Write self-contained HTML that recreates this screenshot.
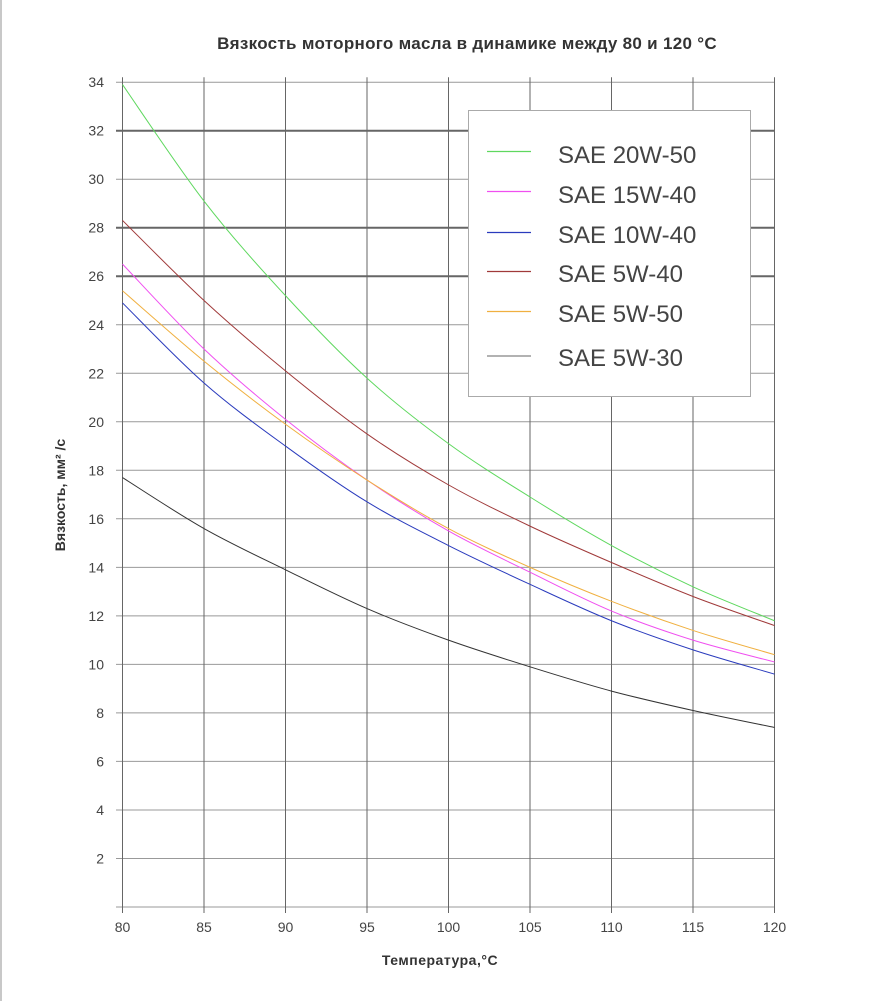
<!DOCTYPE html>
<html><head><meta charset="utf-8"><style>
body{margin:0;background:#fff;}
svg{display:block;font-family:"Liberation Sans","DejaVu Sans",sans-serif;}
</style></head><body>
<svg id="s" width="874" height="1001" viewBox="0 0 874 1001">
<rect x="0" y="0" width="2" height="1001" fill="#c8c8c8"/>
<text x="467" y="49" text-anchor="middle" font-size="17" font-weight="bold" fill="#333" letter-spacing="0.3">Вязкость моторного масла в динамике между 80 и 120 °C</text>
<g id="grid"></g>
<g id="curves" fill="none" stroke-width="1"></g>
<rect x="468.5" y="110.5" width="282" height="286" fill="#fff" stroke="#aaa" stroke-width="1"/>
<g stroke-width="1.2">
<line x1="487" y1="151.5" x2="531" y2="151.5" stroke="#5fd85f"/>
<line x1="487" y1="191.5" x2="531" y2="191.5" stroke="#f04ff0"/>
<line x1="487" y1="232.5" x2="531" y2="232.5" stroke="#2a3bbd"/>
<line x1="487" y1="271.5" x2="531" y2="271.5" stroke="#a03a3a"/>
<line x1="487" y1="311.5" x2="531" y2="311.5" stroke="#f0b040"/>
<line x1="487" y1="356" x2="531" y2="356" stroke="#999" stroke-width="1.6"/>
</g>
<g font-size="24" fill="#444">
<text x="558" y="163">SAE 20W-50</text>
<text x="558" y="203">SAE 15W-40</text>
<text x="558" y="243">SAE 10W-40</text>
<text x="558" y="282">SAE 5W-40</text>
<text x="558" y="322">SAE 5W-50</text>
<text x="558" y="366">SAE 5W-30</text>
</g>
<text x="440" y="965" text-anchor="middle" font-size="14" font-weight="bold" fill="#333" letter-spacing="0.5">Температура,°C</text>
<text transform="translate(65,495) rotate(-90)" text-anchor="middle" font-size="14" font-weight="bold" fill="#333">Вязкость,  мм² /с</text>
</svg>
<script>
function X(t){return 122.5+(t-80)*16.3;}
function Y(v){return 907-v*24.26;}
var g=document.getElementById("grid"),h="";
for(var v=0;v<=34;v+=2){var y=Y(v).toFixed(1);var thick=(v==26||v==28||v==32);
h+='<line x1="116" y1="'+y+'" x2="775" y2="'+y+'" stroke="'+(thick?'#666':'#999')+'" stroke-width="'+(thick?2:1)+'"/>';
if(v>0)h+='<text x="104" y="'+(Y(v)+5)+'" text-anchor="end" font-size="14" fill="#444">'+v+'</text>';}
for(var t=80;t<=120;t+=5){var x=X(t).toFixed(1);
h+='<line x1="'+x+'" y1="'+Y(34.2)+'" x2="'+x+'" y2="913" stroke="#666" stroke-width="1"/>';
h+='<text x="'+x+'" y="932" text-anchor="middle" font-size="14" fill="#444">'+t+'</text>';}
g.innerHTML=h;
var data=[
["#5fd85f",[33.9,29.1,25.2,21.8,19.1,16.9,14.9,13.2,11.8]],
["#a03a3a",[28.3,25,22.1,19.5,17.4,15.7,14.2,12.8,11.6]],
["#f04ff0",[26.5,23,20.1,17.6,15.5,13.8,12.2,11,10.1]],
["#f0b040",[25.4,22.5,19.9,17.6,15.6,14,12.6,11.4,10.4]],
["#2a3bbd",[24.9,21.6,19,16.7,14.9,13.3,11.8,10.6,9.6]],
["#333",[17.7,15.6,13.9,12.3,11,9.9,8.9,8.1,7.4]]];
var c="";
data.forEach(function(d){var p=d[1].map(function(v,i){return [X(80+5*i),Y(v)];});
var s="M"+p[0][0]+","+p[0][1];
for(var i=0;i<p.length-1;i++){var p0=p[i-1]||p[i],p1=p[i],p2=p[i+1],p3=p[i+2]||p2;
s+=" C"+(p1[0]+(p2[0]-p0[0])/6)+","+(p1[1]+(p2[1]-p0[1])/6)+" "+(p2[0]-(p3[0]-p1[0])/6)+","+(p2[1]-(p3[1]-p1[1])/6)+" "+p2[0]+","+p2[1];}
c+='<path d="'+s+'" stroke="'+d[0]+'"/>';});
document.getElementById("curves").innerHTML=c;
</script>
</body></html>
